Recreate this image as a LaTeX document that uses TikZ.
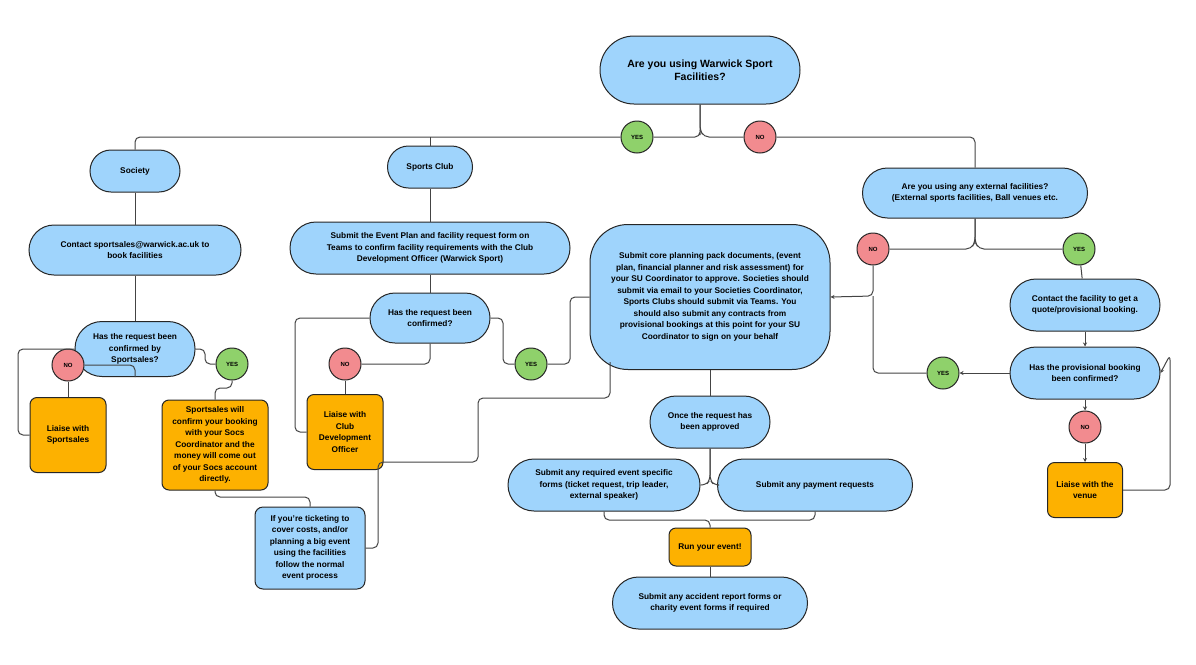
\documentclass[tikz,border=0pt]{standalone}
\usepackage{fontspec}
\setmainfont{Liberation Sans}
\usetikzlibrary{arrows.meta}
\definecolor{bl}{HTML}{9FD4FC}
\definecolor{org}{HTML}{FDB100}
\definecolor{gr}{HTML}{8FD16B}
\definecolor{rd}{HTML}{F28B8F}
\definecolor{ln}{HTML}{444444}
\begin{document}
\begin{tikzpicture}[x=1pt,y=-1pt,
  font=\bfseries\fontsize{8.3}{11.5}\selectfont,
  base/.style={draw=black!85, line width=1pt, align=center, inner sep=2pt},
  pill/.style={base, fill=bl, rounded corners=#1},
  pill/.default=20,
  box/.style={base, fill=org, rounded corners=7},
  yes/.style={base, circle, fill=gr, minimum size=32, inner sep=0pt, font=\bfseries\fontsize{6}{7}\selectfont},
  no/.style={base, circle, fill=rd, minimum size=32, inner sep=0pt, font=\bfseries\fontsize{6}{7}\selectfont},
  ed/.style={draw=ln, line width=1pt, rounded corners=5},
  ar/.style={ed, -{Stealth[length=4pt,width=4pt]}}]
\useasboundingbox (0,0) rectangle (1196,664);
\fill[white] (0,0) rectangle (1196,664);
% nodes
\node[pill=34, minimum width=200, minimum height=68, font=\bfseries\fontsize{10.5}{13}\selectfont] (top) at (700,70) {Are you using Warwick Sport\\Facilities?};
\node[yes] (y0) at (637,137) {YES};
\node[no] (n0) at (760,137) {NO};
\node[pill=21, minimum width=90, minimum height=42] (soc) at (135,171) {Society};
\node[pill=21, minimum width=85, minimum height=42] (sc) at (430,167) {Sports Club};
\node[pill=25, minimum width=212, minimum height=50] (contact) at (135,250) {Contact sportsales@warwick.ac.uk to\\book facilities};
\node[pill=26, minimum width=280, minimum height=52] (plan) at (430,248) {Submit the Event Plan and facility request form on\\Teams to confirm facility requirements with the Club\\Development Officer (Warwick Sport)};
\node[pill=27, minimum width=120, minimum height=55] (q1) at (135,349) {Has the request been\\confirmed by\\Sportsales?};
\node[no] (n1) at (68,365) {NO};
\node[yes] (y1) at (232,364) {YES};
\node[box, minimum width=76, minimum height=75] (l1) at (68,435) {Liaise with\\Sportsales};
\node[box, minimum width=106, minimum height=90, inner sep=1pt] (ss) at (215,445) {Sportsales will\\confirm your booking\\with your Socs\\Coordinator and the\\money will come out\\of your Socs account\\directly.};
\node[pill=25, minimum width=120, minimum height=50] (q2) at (430,318) {Has the request been\\confirmed?};
\node[no] (n2) at (345,364) {NO};
\node[box, minimum width=76, minimum height=75] (l2) at (345,432) {Liaise with\\Club\\Development\\Officer};
\node[yes] (y2) at (531,364) {YES};
\node[pill=38, minimum width=240, minimum height=145] (core) at (710,297) {Submit core planning pack documents, (event\\plan, financial planner and risk assessment) for\\your SU Coordinator to approve. Societies should\\submit via email to your Societies Coordinator,\\Sports Clubs should submit via Teams. You\\should also submit any contracts from\\provisional bookings at this point for your SU\\Coordinator to sign on your behalf};
\node[pill=25, minimum width=225, minimum height=50] (ext) at (975,193) {Are you using any external facilities?\\(External sports facilities, Ball venues etc.};
\node[no] (n3) at (873,249) {NO};
\node[yes] (y3) at (1079,249) {YES};
\node[pill=26, minimum width=150, minimum height=52] (cf) at (1085,305) {Contact the facility to get a\\quote/provisional booking.};
\node[pill=26, minimum width=150, minimum height=52] (q3) at (1085,373) {Has the provisional booking\\been confirmed?};
\node[yes] (y4) at (943,373) {YES};
\node[no] (n4) at (1085,427) {NO};
\node[box, minimum width=75, minimum height=55] (l3) at (1085,490) {Liaise with the\\venue};
\node[pill=26, minimum width=120, minimum height=52] (once) at (710,422) {Once the request has\\been approved};
\node[pill=26, minimum width=192, minimum height=52] (forms) at (604,485) {Submit any required event specific\\forms (ticket request, trip leader,\\external speaker)};
\node[pill=26, minimum width=195, minimum height=52] (pay) at (815,485) {Submit any payment requests};
\node[box, minimum width=82, minimum height=38] (run) at (710,547) {Run your event!};
\node[pill=26, minimum width=195, minimum height=52] (acc) at (710,603) {Submit any accident report forms or\\charity event forms if required};
\node[pill=8, minimum width=110, minimum height=82, inner sep=1pt] (tick) at (310,548) {If you're ticketing to\\cover costs, and/or\\planning a big event\\using the facilities\\follow the normal\\event process};
% connectors
\draw[ed] (top.south) -- (700,130) -- (700,137) -- (y0.east);
\draw[ed] (y0.west) -- (135,137) -- (soc.north);
\draw[ed] (430,137) -- (sc.north);
\draw[ed] (top.south) -- (700,130) -- (704,137) -- (n0.west);
\draw[ed] (n0.east) -- (975,137) -- (ext.north);
\draw[ed] (soc) -- (contact);
\draw[ed] (contact) -- (q1);
\draw[ed] (q1.south) -- (135,365) -- (n1.east);
\draw[ed] (n1) -- (l1);
\draw[ed] (q1.west) -- (18,349) -- (18,435) -- (l1.west);
\draw[ed] (q1.east) -- (205,349) -- (205,364) -- (y1.west);
\draw[ed] (y1.south) -- (232,388) -- (215,388) -- (ss.north);
\draw[ed] (ss.south) -- (215,497) -- (310,497) -- (tick.north);
\draw[ed] (tick.east) -- (378,548) -- (378,462) -- (478,462) -- (478,398) -- (610,398) -- (610,362);
\draw[ed] (sc) -- (plan);
\draw[ed] (plan) -- (q2);
\draw[ed] (q2.south) -- (430,364) -- (n2.east);
\draw[ed] (n2) -- (l2);
\draw[ed] (q2.west) -- (295,318) -- (295,432) -- (l2.west);
\draw[ed] (q2.east) -- (503,318) -- (503,364) -- (y2.west);
\draw[ed] (y2.east) -- (570,364) -- (570,297) -- (core.west);
\draw[ed] (ext.south) -- (975,242) -- (971,249) -- (n3.east);
\draw[ed] (ext.south) -- (975,242) -- (979,249) -- (y3.west);
\draw[ar] (n3.south) -- (873,296) -- (core.east);
\draw[ed] (y4.west) -- (873,373) -- (873,296);
\draw[ed] (y3) -- (cf);
\draw[ar] (cf) -- (q3);
\draw[ar] (q3.west) -- (y4.east);
\draw[ar] (q3) -- (n4);
\draw[ar] (n4) -- (l3);
\draw[ar] (l3.east) -- (1170,490) -- (1170,355) -- (q3.east);
\draw[ed] (core) -- (once);
\draw[ed] (once.south) -- (710,480) -- (706,485) -- (forms.east);
\draw[ed] (once.south) -- (710,480) -- (714,485) -- (pay.west);
\draw[ed] (forms.south) -- (604,520) -- (710,520) -- (run.north);
\draw[ed] (pay.south) -- (815,520) -- (710,520);
\draw[ed] (run) -- (acc);
\end{tikzpicture}
\end{document}
